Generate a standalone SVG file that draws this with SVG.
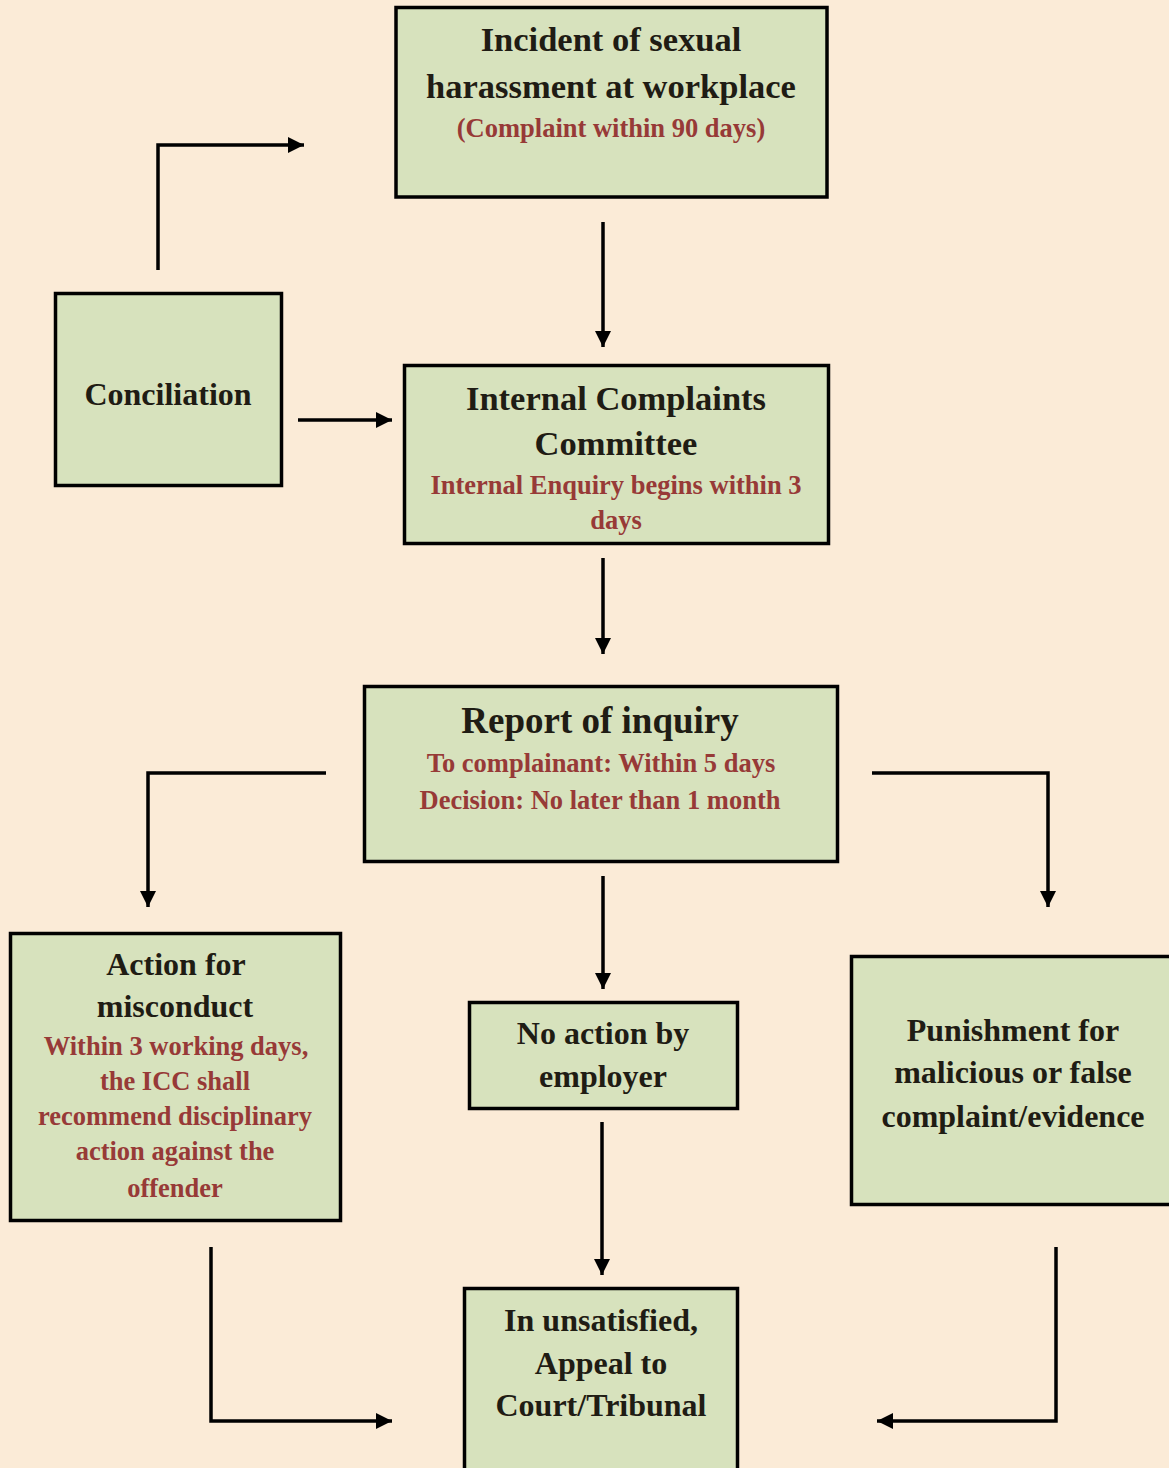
<svg xmlns="http://www.w3.org/2000/svg" width="1169" height="1468" viewBox="0 0 1169 1468">
<defs>
<style>
.box{fill:#d7e2bd;stroke:#000;stroke-width:3.5}
.t{font-family:"Liberation Serif","Times New Roman",serif;font-weight:bold;fill:#1f1c14;text-anchor:middle}
.r{font-family:"Liberation Serif","Times New Roman",serif;font-weight:bold;fill:#973a37;text-anchor:middle;font-size:26.5px}
.s32{font-size:32px}
.s34{font-size:34.5px}
.s37{font-size:37px}
.c{fill:none;stroke:#000;stroke-width:3.5;marker-end:url(#ah)}
</style>
<marker id="ah" markerUnits="userSpaceOnUse" markerWidth="18" markerHeight="18" refX="16" refY="8" orient="auto">
<path d="M0,0 L16,8 L0,16 z" fill="#000"/>
</marker>
</defs>
<rect width="1169" height="1468" fill="#fbebd7"/>
<g id="connectors">
<polyline class="c" points="158,270 158,145 304,145"/>
<line class="c" x1="298" y1="420" x2="392" y2="420"/>
<line class="c" x1="603" y1="222" x2="603" y2="347"/>
<line class="c" x1="603" y1="558" x2="603" y2="654"/>
<polyline class="c" points="326,773 148,773 148,907"/>
<polyline class="c" points="872,773 1048,773 1048,907"/>
<line class="c" x1="603" y1="876" x2="603" y2="989"/>
<line class="c" x1="602" y1="1122" x2="602" y2="1275"/>
<polyline class="c" points="211,1247 211,1421 392,1421"/>
<polyline class="c" points="1056,1247 1056,1421 877,1421"/>
</g>
<g id="incident">
<rect class="box" x="396" y="7.5" width="431" height="189.5"/>
<text class="t s34" x="611" y="51">Incident of sexual</text>
<text class="t s34" x="611" y="98">harassment at workplace</text>
<text class="r" x="611" y="137">(Complaint within 90 days)</text>
</g>
<g id="conciliation">
<rect class="box" x="55.5" y="293.5" width="226" height="192"/>
<text class="t s32" x="168" y="405">Conciliation</text>
</g>
<g id="icc">
<rect class="box" x="404.5" y="365.5" width="424" height="178"/>
<text class="t s34" x="616" y="410">Internal Complaints</text>
<text class="t s34" x="616" y="455">Committee</text>
<text class="r" x="616" y="494">Internal Enquiry begins within 3</text>
<text class="r" x="616" y="529">days</text>
</g>
<g id="report">
<rect class="box" x="364.5" y="686.5" width="473" height="175"/>
<text class="t s37" x="600" y="733">Report of inquiry</text>
<text class="r" x="601" y="772">To complainant: Within 5 days</text>
<text class="r" x="600" y="809">Decision: No later than 1 month</text>
</g>
<g id="action">
<rect class="box" x="10.5" y="933.5" width="330" height="287"/>
<text class="t s32" x="176" y="975">Action for</text>
<text class="t s32" x="175" y="1017">misconduct</text>
<text class="r" x="176" y="1055">Within 3 working days,</text>
<text class="r" x="175" y="1090">the ICC shall</text>
<text class="r" x="175" y="1125">recommend disciplinary</text>
<text class="r" x="175" y="1160">action against the</text>
<text class="r" x="175" y="1197">offender</text>
</g>
<g id="noaction">
<rect class="box" x="469.5" y="1002.5" width="268" height="106"/>
<text class="t s32" x="603" y="1044">No action by</text>
<text class="t s32" x="603" y="1087">employer</text>
</g>
<g id="punishment">
<rect class="box" x="851.5" y="956.5" width="330" height="248"/>
<text class="t s32" x="1013" y="1041">Punishment for</text>
<text class="t s32" x="1013" y="1083">malicious or false</text>
<text class="t s32" x="1013" y="1127">complaint/evidence</text>
</g>
<g id="appeal">
<rect class="box" x="464.5" y="1288.5" width="273" height="200"/>
<text class="t s32" x="601" y="1331">In unsatisfied,</text>
<text class="t s32" x="601" y="1374">Appeal to</text>
<text class="t s32" x="601" y="1416">Court/Tribunal</text>
</g>
</svg>
